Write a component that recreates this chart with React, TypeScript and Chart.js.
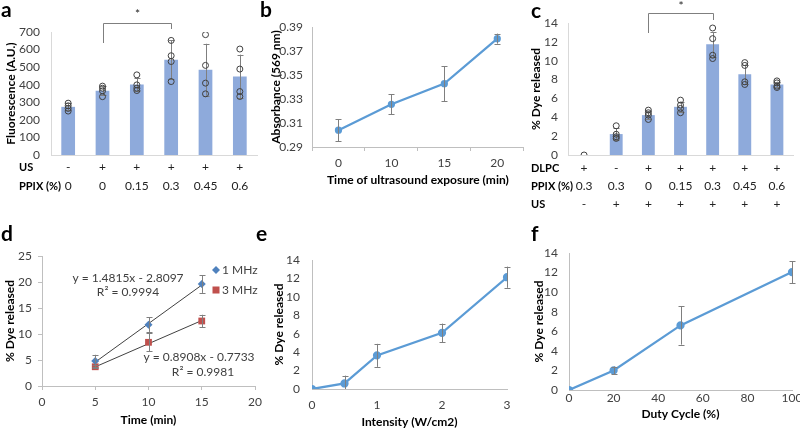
import React, { useEffect, useRef } from 'react';
import { Chart, registerables } from 'chart.js';
Chart.register(...registerables);

const FONT = 'Lato, "Open Sans", sans-serif';
Chart.defaults.font.family = FONT;

// ---------- Panel a ----------
const aUS = ['-', '+', '+', '+', '+', '+'];
const aPPIX = ['0', '0', '0.15', '0.3', '0.45', '0.6'];
const aMeans = [274, 366, 401, 542, 485, 447];
const aErr = [20, 25, 35, 110, 148, 124];
const aReplicates = [
  [295, 280, 265, 250],
  [392, 380, 365, 332],
  [456, 399, 380, 367],
  [652, 565, 532, 418],
  [685, 510, 409, 348],
  [603, 489, 361, 333],
];

// ---------- Panel b ----------
const bTimes = ['0', '10', '15', '20'];
const bAbs = [0.304, 0.3256, 0.3428, 0.3803];
const bErr = [0.009, 0.0083, 0.0147, 0.0042];

// ---------- Panel c ----------
const cDLPC = ['+', '-', '+', '+', '+', '+', '+'];
const cPPIX = ['0.3', '0.3', '0', '0.15', '0.3', '0.45', '0.6'];
const cUS = ['-', '+', '+', '+', '+', '+', '+'];
const cMeans = [0, 2.22, 4.23, 5.11, 11.74, 8.57, 7.48];
const cErr = [0, 0.6, 0.45, 0.55, 1.3, 1.0, 0.3];
const cReplicates = [
  [0],
  [3.1, 2.2, 1.94, 1.76],
  [4.76, 4.48, 4.23, 3.77],
  [5.82, 5.29, 4.94, 4.48],
  [13.47, 12.34, 10.58, 10.23],
  [9.8, 9.5, 7.76, 7.48],
  [7.86, 7.65, 7.3, 7.16],
];

// ---------- Panel d ----------
const dTimes = [5, 10, 15];
const d1MHz = [4.8, 11.8, 19.6];
const d1Err = [1.2, 1.4, 1.7];
const d3MHz = [3.7, 8.4, 12.5];
const d3Err = [0.3, 1.7, 1.2];
const dTrend1 = [4.6, 19.41];
const dTrend3 = [3.68, 12.59];
const dTrendX = [5, 15];
const dEq1 = ['y = 1.4815x - 2.8097', 'R² = 0.9994'];
const dEq3 = ['y = 0.8908x - 0.7733', 'R² = 0.9981'];

// ---------- Panel e ----------
const eIntensity = [0, 0.5, 1, 2, 3];
const eDye = [0, 0.6, 3.65, 6.1, 12.13];
const eErr = [0, 0.85, 1.25, 1.0, 1.15];

// ---------- Panel f ----------
const fDuty = [0, 20, 50, 100];
const fDye = [0, 2.0, 6.6, 12.05];
const fErr = [0, 0.4, 1.96, 1.12];

// ---------- styles ----------
const BAR = '#8EAADB';
const LINE = '#5B9BD5';
const BLUE_D = '#4F81BD';
const RED_D = '#C0504D';
const AXIS_LIGHT = '#D9D9D9';
const AXIS = '#BFBFBF';
const TICK = '#404040';
const ERR = '#7F7F7F';

const tickFont = { size: 12, family: FONT };
const titleFont = { size: 12, weight: 'bold' as const, family: FONT };

const fixY = (w: number) => (s: any) => {
  s.width = w;
  s.paddingTop = 0;
  s.paddingBottom = 0;
};
const fixX = (h: number) => (s: any) => {
  s.height = h;
  s.paddingLeft = 0;
  s.paddingRight = 0;
};

type ErrSpec = { ds: number; values: number[]; errs: number[]; cap: number };
const errorBars = (specs: ErrSpec[]) => ({
  id: 'errorBars',
  afterDatasetDraw(chart: any, args: any) {
    const spec = specs.find((s) => s.ds === args.index);
    if (!spec) return;
    const ctx = chart.ctx;
    const ys = chart.scales.y;
    const meta = chart.getDatasetMeta(spec.ds);
    ctx.save();
    ctx.strokeStyle = ERR;
    ctx.lineWidth = 1;
    spec.values.forEach((v, i) => {
      const e = spec.errs[i];
      if (!e) return;
      const x = Math.round(meta.data[i].x) + 0.5;
      const y1 = ys.getPixelForValue(v + e);
      const y2 = ys.getPixelForValue(Math.max(v - e, ys.min));
      ctx.beginPath();
      ctx.moveTo(x, y1);
      ctx.lineTo(x, y2);
      ctx.moveTo(x - spec.cap, Math.round(y1) + 0.5);
      ctx.lineTo(x + spec.cap, Math.round(y1) + 0.5);
      if (v - e >= ys.min) {
        ctx.moveTo(x - spec.cap, Math.round(y2) + 0.5);
        ctx.lineTo(x + spec.cap, Math.round(y2) + 0.5);
      }
      ctx.stroke();
    });
    ctx.restore();
  },
});

type Row = { label: string; values: string[]; y: number };
const rowsPlugin = (rows: Row[], labelX: number) => ({
  id: 'rows',
  afterDraw(chart: any) {
    const ctx = chart.ctx;
    const xs = chart.scales.x;
    ctx.save();
    ctx.textBaseline = 'middle';
    rows.forEach((r) => {
      ctx.font = `bold 11px ${FONT}`;
      ctx.textAlign = 'left';
      ctx.fillStyle = '#000';
      ctx.fillText(r.label, labelX, r.y);
      ctx.font = `12px ${FONT}`;
      ctx.textAlign = 'center';
      ctx.fillStyle = '#222';
      r.values.forEach((v, i) => ctx.fillText(v, xs.getPixelForValue(i), r.y));
    });
    ctx.restore();
  },
});

const bracketPlugin = (i0: number, i1: number, yTop: number, yL: number, yR: number, yStar: number) => ({
  id: 'bracket',
  afterDraw(chart: any) {
    const ctx = chart.ctx;
    const xs = chart.scales.x;
    const x0 = Math.round(xs.getPixelForValue(i0)) + 0.5;
    const x1 = Math.round(xs.getPixelForValue(i1)) + 0.5;
    ctx.save();
    ctx.strokeStyle = ERR;
    ctx.lineWidth = 1;
    ctx.beginPath();
    ctx.moveTo(x0, yL);
    ctx.lineTo(x0, yTop + 0.5);
    ctx.lineTo(x1, yTop + 0.5);
    ctx.lineTo(x1, yR);
    ctx.stroke();
    ctx.fillStyle = '#222';
    ctx.font = `12px ${FONT}`;
    ctx.textAlign = 'center';
    ctx.textBaseline = 'middle';
    ctx.fillText('*', (x0 + x1) / 2, yStar);
    ctx.restore();
  },
});

const textPlugin = (items: { text: string; x: number; y: number; align?: string }[]) => ({
  id: 'texts',
  afterDraw(chart: any) {
    const ctx = chart.ctx;
    ctx.save();
    ctx.font = `12px ${FONT}`;
    ctx.fillStyle = TICK;
    ctx.textBaseline = 'middle';
    items.forEach((t) => {
      ctx.textAlign = (t.align || 'center') as CanvasTextAlign;
      ctx.fillText(t.text, t.x, t.y);
    });
    ctx.restore();
  },
});

const legendD = (x: number, y1: number, y2: number) => ({
  id: 'legendD',
  afterDraw(chart: any) {
    const ctx = chart.ctx;
    ctx.save();
    ctx.fillStyle = BLUE_D;
    ctx.beginPath();
    ctx.moveTo(x, y1 - 4);
    ctx.lineTo(x + 4, y1);
    ctx.lineTo(x, y1 + 4);
    ctx.lineTo(x - 4, y1);
    ctx.closePath();
    ctx.fill();
    ctx.fillStyle = RED_D;
    ctx.fillRect(x - 3.5, y2 - 3.5, 7, 7);
    ctx.font = `12px ${FONT}`;
    ctx.fillStyle = TICK;
    ctx.textAlign = 'left';
    ctx.textBaseline = 'middle';
    ctx.fillText('1 MHz', x + 6, y1);
    ctx.fillText('3 MHz', x + 6, y2);
    ctx.restore();
  },
});

const replicateDatasets = (reps: number[][]) => {
  const n = Math.max(...reps.map((r) => r.length));
  const out: any[] = [];
  for (let k = 0; k < n; k++) {
    out.push({
      type: 'line',
      data: reps.map((r) => (k < r.length ? r[k] : null)),
      showLine: false,
      pointRadius: 3,
      pointBorderWidth: 1,
      pointBorderColor: '#404040',
      pointBackgroundColor: 'rgba(0,0,0,0)',
      order: 1,
    });
  }
  return out;
};

const basePlugins = { legend: { display: false }, tooltip: { enabled: false } };

// ---------- configs ----------
const configA = (): any => ({
  type: 'bar',
  data: {
    labels: aPPIX.map((_, i) => i),
    datasets: [
      { type: 'bar', data: aMeans, backgroundColor: BAR, barPercentage: 0.4, categoryPercentage: 1, order: 2 },
      ...replicateDatasets(aReplicates),
    ],
  },
  options: {
    responsive: false,
    animation: false,
    layout: { padding: { left: 0, top: 32, right: 4, bottom: 0 } },
    plugins: basePlugins,
    scales: {
      x: {
        grid: { display: false, drawTicks: false },
        ticks: { display: false },
        border: { display: true, color: AXIS_LIGHT },
        afterFit: fixX(45),
      },
      y: {
        min: 0,
        max: 700,
        ticks: { stepSize: 100, padding: 11, color: TICK, font: tickFont },
        grid: { display: false, drawTicks: false },
        border: { display: true, color: AXIS_LIGHT },
        title: { display: true, text: 'Fluorescence (A.U.)', font: titleFont, color: '#000', padding: { top: 4, bottom: 0 } },
        afterFit: fixY(51),
      },
    },
  },
  plugins: [
    errorBars([{ ds: 0, values: aMeans, errs: aErr, cap: 3 }]),
    rowsPlugin(
      [
        { label: 'US', values: aUS, y: 167 },
        { label: 'PPIX (%)', values: aPPIX, y: 186 },
      ],
      19
    ),
    bracketPlugin(1, 3, 23, 43, 29, 14),
  ],
});

const configB = (): any => ({
  type: 'line',
  data: {
    labels: bTimes,
    datasets: [
      {
        data: bAbs,
        borderColor: LINE,
        borderWidth: 2.25,
        pointRadius: 2.5,
        pointBackgroundColor: LINE,
        pointBorderColor: LINE,
        tension: 0,
      },
    ],
  },
  options: {
    responsive: false,
    animation: false,
    layout: { padding: { left: 0, top: 27, right: 5, bottom: 0 } },
    plugins: basePlugins,
    scales: {
      x: {
        offset: true,
        grid: { display: true, drawOnChartArea: false, drawTicks: true, tickLength: 4, offset: true, color: AXIS },
        ticks: { padding: 5, color: TICK, font: tickFont },
        border: { display: true, color: AXIS },
        title: { display: true, text: 'Time of ultrasound exposure (min)', font: titleFont, color: '#000', padding: { top: 0, bottom: 3 } },
        afterFit: fixX(43),
      },
      y: {
        min: 0.29,
        max: 0.39,
        ticks: { stepSize: 0.02, padding: 9, color: TICK, font: tickFont, callback: (v: number) => v.toFixed(2) },
        grid: { display: false, drawTicks: false },
        border: { display: true, color: AXIS },
        title: { display: true, text: 'Absorbance (569 nm)', font: titleFont, color: '#000', padding: { top: 1, bottom: 0 } },
        afterFit: fixY(44),
      },
    },
  },
  plugins: [errorBars([{ ds: 0, values: bAbs, errs: bErr, cap: 3 }])],
});

const configC = (): any => ({
  type: 'bar',
  data: {
    labels: cPPIX.map((_, i) => i),
    datasets: [
      { type: 'bar', data: cMeans, backgroundColor: BAR, barPercentage: 0.4, categoryPercentage: 1, order: 2 },
      ...replicateDatasets(cReplicates),
    ],
  },
  options: {
    responsive: false,
    animation: false,
    layout: { padding: { left: 0, top: 23, right: 7, bottom: 0 } },
    plugins: basePlugins,
    scales: {
      x: {
        grid: { display: false, drawTicks: false },
        ticks: { display: false },
        border: { display: true, color: AXIS_LIGHT },
        afterFit: fixX(60),
      },
      y: {
        min: 0,
        max: 14,
        ticks: { stepSize: 2, padding: 10, color: TICK, font: tickFont },
        grid: { display: false, drawTicks: false },
        border: { display: true, color: AXIS_LIGHT },
        title: { display: true, text: '% Dye released', font: titleFont, color: '#000', padding: { top: 1, bottom: 0 } },
        afterFit: fixY(40),
      },
    },
  },
  plugins: [
    errorBars([{ ds: 0, values: cMeans, errs: cErr, cap: 3 }]),
    rowsPlugin(
      [
        { label: 'DLPC', values: cDLPC, y: 168 },
        { label: 'PPIX (%)', values: cPPIX, y: 186 },
        { label: 'US', values: cUS, y: 204 },
      ],
      3
    ),
    bracketPlugin(2, 4, 13, 33, 20, 6),
  ],
});

const OFF_D = 210;
const configD = (): any => ({
  type: 'line',
  data: {
    datasets: [
      {
        data: dTimes.map((x, i) => ({ x, y: d1MHz[i] })),
        showLine: false,
        pointStyle: 'rectRot',
        pointRadius: 4,
        pointBackgroundColor: BLUE_D,
        pointBorderColor: BLUE_D,
        pointBorderWidth: 0,
        order: 1,
      },
      {
        data: dTimes.map((x, i) => ({ x, y: d3MHz[i] })),
        showLine: false,
        pointStyle: 'rect',
        pointRadius: 4.8,
        pointBackgroundColor: RED_D,
        pointBorderColor: RED_D,
        pointBorderWidth: 0,
        order: 1,
      },
      {
        data: dTrendX.map((x, i) => ({ x, y: dTrend1[i] })),
        borderColor: '#000',
        borderWidth: 0.75,
        pointRadius: 0,
        order: 2,
      },
      {
        data: dTrendX.map((x, i) => ({ x, y: dTrend3[i] })),
        borderColor: '#000',
        borderWidth: 0.75,
        pointRadius: 0,
        order: 2,
      },
    ],
  },
  options: {
    responsive: false,
    animation: false,
    layout: { padding: { left: 0, top: 46, right: 7, bottom: 0 } },
    plugins: basePlugins,
    scales: {
      x: {
        type: 'linear',
        min: 0,
        max: 20,
        grid: { display: true, drawOnChartArea: false, drawTicks: true, tickLength: 4, color: AXIS },
        ticks: { stepSize: 5, padding: 4.5, color: TICK, font: tickFont },
        border: { display: true, color: AXIS },
        title: { display: true, text: 'Time (min)', font: titleFont, color: '#000', padding: { top: 0, bottom: 2 } },
        afterFit: fixX(43),
      },
      y: {
        min: 0,
        max: 25,
        grid: { display: true, drawOnChartArea: false, drawTicks: true, tickLength: 4, color: AXIS },
        ticks: { stepSize: 5, padding: 6, color: TICK, font: tickFont },
        border: { display: true, color: AXIS },
        title: { display: true, text: '% Dye released', font: titleFont, color: '#000', padding: { top: 3, bottom: 0 } },
        afterFit: fixY(42),
      },
    },
  },
  plugins: [
    errorBars([
      { ds: 0, values: d1MHz, errs: d1Err, cap: 3 },
      { ds: 1, values: d3MHz, errs: d3Err, cap: 3 },
    ]),
    textPlugin([
      { text: dEq1[0], x: 128, y: 278 - OFF_D },
      { text: dEq1[1], x: 128, y: 292 - OFF_D },
      { text: dEq3[0], x: 199, y: 357 - OFF_D },
      { text: dEq3[1], x: 203, y: 372 - OFF_D },
    ]),
    legendD(216, 270 - OFF_D, 290 - OFF_D),
  ],
});

const lineConfig = (
  xs: number[],
  ys: number[],
  errs: number[],
  o: {
    padT: number; padR: number; yW: number; xH: number; xMax: number; xStep: number;
    yPad: number; xPad: number; xTitle: string; xTitleBottom: number; yTitleTop: number;
  }
): any => ({
  type: 'line',
  data: {
    datasets: [
      {
        data: xs.map((x, i) => ({ x, y: ys[i] })),
        borderColor: LINE,
        borderWidth: 2.25,
        pointRadius: 3,
        pointBackgroundColor: LINE,
        pointBorderColor: LINE,
        tension: 0,
      },
    ],
  },
  options: {
    responsive: false,
    animation: false,
    layout: { padding: { left: 0, top: o.padT, right: o.padR, bottom: 0 } },
    plugins: basePlugins,
    scales: {
      x: {
        type: 'linear',
        min: 0,
        max: o.xMax,
        grid: { display: false, drawTicks: false },
        ticks: { stepSize: o.xStep, padding: o.xPad, color: TICK, font: tickFont },
        border: { display: true, color: AXIS },
        title: { display: true, text: o.xTitle, font: titleFont, color: '#000', padding: { top: 0, bottom: o.xTitleBottom } },
        afterFit: fixX(o.xH),
      },
      y: {
        min: 0,
        max: 14,
        grid: { display: false, drawTicks: false },
        ticks: { stepSize: 2, padding: o.yPad, color: TICK, font: tickFont },
        border: { display: true, color: AXIS },
        title: { display: true, text: '% Dye released', font: titleFont, color: '#000', padding: { top: o.yTitleTop, bottom: 0 } },
        afterFit: fixY(o.yW),
      },
    },
  },
  plugins: [errorBars([{ ds: 0, values: ys, errs, cap: 3 }])],
});

const configE = () =>
  lineConfig(eIntensity, eDye, eErr, {
    padT: 50, padR: 23, yW: 44, xH: 40, xMax: 3, xStep: 1, yPad: 12, xPad: 8.8,
    xTitle: 'Intensity (W/cm2)', xTitleBottom: 0, yTitleTop: 3.8,
  });

const configF = () =>
  lineConfig(fDuty, fDye, fErr, {
    padT: 43, padR: 8, yW: 41, xH: 39, xMax: 100, xStep: 20, yPad: 11, xPad: 1,
    xTitle: 'Duty Cycle (%)', xTitleBottom: 7.8, yTitleTop: 3.8,
  });

function ChartBox(props: { left: number; top: number; width: number; height: number; make: () => any }) {
  const ref = useRef<HTMLCanvasElement>(null);
  useEffect(() => {
    const chart = new Chart(ref.current as HTMLCanvasElement, props.make());
    return () => chart.destroy();
  }, []);
  return (
    <canvas
      ref={ref}
      width={props.width}
      height={props.height}
      style={{ position: 'absolute', left: props.left, top: props.top, width: props.width, height: props.height }}
    />
  );
}

const letterStyle = (left: number, top: number): React.CSSProperties => ({
  position: 'absolute',
  left,
  top,
  font: `bold 21px ${FONT}`,
  lineHeight: '21px',
  color: '#000',
});

export default function App() {
  return (
    <div style={{ position: 'fixed', left: 0, top: 0, width: 800, height: 429, background: '#fff', overflow: 'hidden' }}>
      <ChartBox left={0} top={0} width={262} height={200} make={configA} />
      <ChartBox left={268} top={0} width={262} height={190} make={configB} />
      <ChartBox left={528} top={0} width={272} height={215} make={configC} />
      <ChartBox left={0} top={210} width={262} height={219} make={configD} />
      <ChartBox left={268} top={210} width={262} height={219} make={configE} />
      <ChartBox left={528} top={210} width={272} height={219} make={configF} />
      <div style={letterStyle(1, -2)}>a</div>
      <div style={letterStyle(260, -2)}>b</div>
      <div style={letterStyle(531, -1)}>c</div>
      <div style={letterStyle(1, 222)}>d</div>
      <div style={letterStyle(256, 222)}>e</div>
      <div style={letterStyle(531, 222)}>f</div>
    </div>
  );
}
